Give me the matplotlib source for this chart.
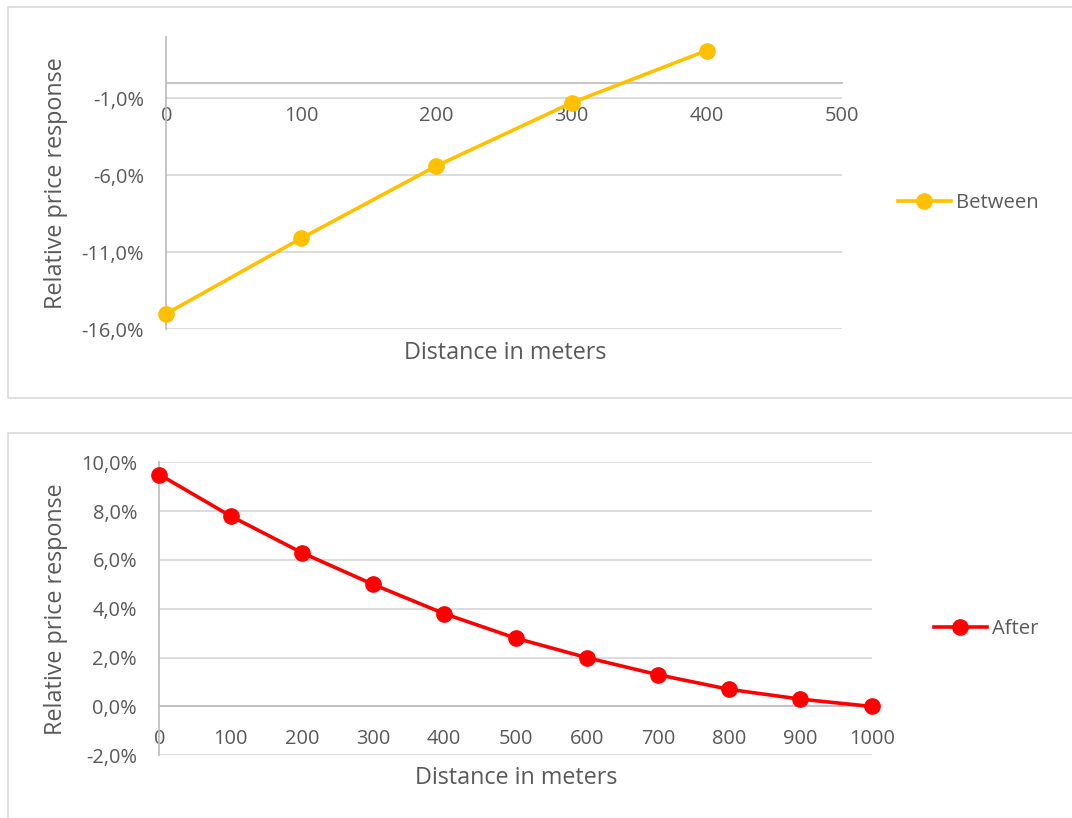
import matplotlib
matplotlib.use("Agg")
import matplotlib.pyplot as plt
from matplotlib.patches import Rectangle
from matplotlib.ticker import FuncFormatter

# Values (percent)
between_x = [0, 100, 200, 300, 400]
between_y = [-15.0, -10.1, -5.4, -1.3, 2.1]
between_yticks = [-16, -11, -6, -1]
between_xticks = [0, 100, 200, 300, 400, 500]

after_x = [0, 100, 200, 300, 400, 500, 600, 700, 800, 900, 1000]
after_y = [9.5, 7.8, 6.3, 5.0, 3.8, 2.8, 2.0, 1.3, 0.7, 0.3, 0.0]
after_yticks = [-2, 0, 2, 4, 6, 8, 10]
after_xticks = [0, 100, 200, 300, 400, 500, 600, 700, 800, 900, 1000]

TEXT = "#595959"
GRID = "#D9D9D9"
AXIS = "#BFBFBF"
FS = 14.4
TITLE_FS = 16.8

plt.rcParams["font.family"] = ["Open Sans", "DejaVu Sans"]

W, H = 1072, 818
fig = plt.figure(figsize=(W / 100, H / 100), dpi=100)


# Convert a pixel box (left, top, right, bottom) into figure fractions
def px_axes(left, top, right, bottom):
    return fig.add_axes([left / W, 1 - bottom / H, (right - left) / W, (bottom - top) / H])


def pct(v, pos):
    return f"{v:.1f}%".replace(".", ",")


# This function styles one Excel-like line chart
def style_chart(ax, x, y, color, label, xticks, yticks, ylim, xlab_pos, ylab_pos, leg_pos):
    ax.plot(x, y, color=color, lw=2.6, marker="o", markersize=11, label=label,
            clip_on=False, zorder=5)
    ax.set_xlim(xticks[0], xticks[-1])
    ax.set_ylim(*ylim)
    ax.set_xticks(xticks)
    ax.set_yticks(yticks)
    ax.yaxis.set_major_formatter(FuncFormatter(pct))

    # Gridlines and the axis crossing at zero
    ax.grid(axis="y", color=GRID, lw=1.3)
    ax.set_axisbelow(True)
    for s in ["top", "right"]:
        ax.spines[s].set_visible(False)
    ax.spines["bottom"].set_position(("data", 0))
    ax.spines["bottom"].set_color(AXIS)
    ax.spines["left"].set_color(AXIS)
    ax.spines["bottom"].set_linewidth(1.3)
    ax.spines["left"].set_linewidth(1.3)
    ax.tick_params(axis="x", length=0, pad=16.5, labelsize=FS, labelcolor=TEXT)
    ax.tick_params(axis="y", length=0, pad=16, labelsize=FS, labelcolor=TEXT)

    # Axis titles
    ax.set_xlabel("Distance in meters", fontsize=TITLE_FS, color=TEXT)
    ax.xaxis.set_label_coords(*xlab_pos)
    ax.set_ylabel("Relative price response", fontsize=TITLE_FS, color=TEXT)
    ax.yaxis.set_label_coords(*ylab_pos)

    # Legend on the right
    leg = ax.legend(loc="center left", bbox_to_anchor=leg_pos, bbox_transform=fig.transFigure,
                    frameon=False, fontsize=14.6, handlelength=2.6, handletextpad=0.25,
                    borderpad=0, borderaxespad=0)
    for t in leg.get_texts():
        t.set_color(TEXT)


# Light frames around each chart
fig.patches.append(Rectangle((8.3 / W, 1 - 398.3 / H), 1.2, 391 / H, transform=fig.transFigure,
                             fill=False, edgecolor=GRID, lw=1.2))
fig.patches.append(Rectangle((8.3 / W, -0.2), 1.2, 0.2 + 1 - 432.7 / H, transform=fig.transFigure,
                             fill=False, edgecolor=GRID, lw=1.2))

# Top chart: Between
ax1 = px_axes(166.3, 36.7, 841.7, 329)
style_chart(ax1, between_x, between_y, "#FFC000", "Between", between_xticks, between_yticks,
            (-16, 3), (0.5015, -0.040), (-0.1455, 0.5), (898 / W, 1 - 202.7 / H))

# Bottom chart: After
ax2 = px_axes(159.3, 462.3, 871.7, 755.3)
style_chart(ax2, after_x, after_y, "#FF0000", "After", after_xticks, after_yticks,
            (-2, 10), (0.5007, -0.0365), (-0.128, 0.5), (934 / W, 1 - 629 / H))

fig.savefig("out.png", dpi=100)
